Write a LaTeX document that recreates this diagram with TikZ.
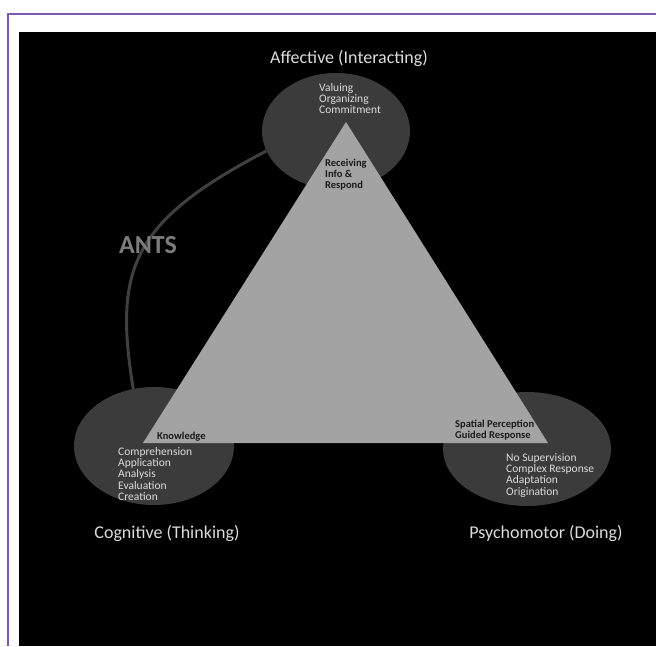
\documentclass[tikz,border=0pt]{standalone}
\usepackage{fontspec}
\setmainfont{Carlito}
\usetikzlibrary{shapes.geometric}

\definecolor{framepurple}{HTML}{7E5AB0}
\definecolor{domaingrey}{HTML}{3B3B3B}
\definecolor{trianglegrey}{HTML}{A3A3A3}
\definecolor{arcgrey}{HTML}{404040}
\definecolor{labelwhite}{HTML}{DCDCDC}
\definecolor{antsgrey}{HTML}{7C7C7C}
\definecolor{darkink}{HTML}{1A1A1A}

\pgfdeclarelayer{background}
\pgfsetlayers{background,main}

\begin{document}
\begin{tikzpicture}[x=1pt, y=-1pt]

    % Define styles
    \tikzset{
        frameline/.style={draw=framepurple, line width=1.5pt},
        domainbubble/.style={ellipse, fill=domaingrey, inner sep=0pt},
        antsarc/.style={draw=arcgrey, line width=3pt},
        domaintitle/.style={text=labelwhite, anchor=base, font=\fontsize{18}{21}\selectfont},
        lighttext/.style={text=labelwhite, align=left, anchor=north west, inner sep=0pt, font=\fontsize{11.5}{11.4}\selectfont},
        darktext/.style={text=darkink, align=left, anchor=north west, inner sep=0pt, font=\bfseries\fontsize{10.5}{11}\selectfont}
    }

    \useasboundingbox (0,0) rectangle (656,646);

    % 1. Page frame and background
    \begin{pgfonlayer}{background}
        \fill[black] (19,32) rectangle (656,646);
        \draw[frameline] (8,646) -- (8,14) -- (656,14);
    \end{pgfonlayer}

    % 2. Domains
    \node[domainbubble, minimum width=148pt, minimum height=116pt] (aff) at (336,131) {};
    \node[domainbubble, minimum width=160pt, minimum height=118pt] (cog) at (154,446) {};
    \node[domainbubble, minimum width=168pt, minimum height=114pt] (psy) at (527,449) {};

    % ANTS link, kept behind the domains
    \begin{pgfonlayer}{background}
        \draw[antsarc] (aff.196) .. controls (130,222) and (114,270) .. (cog.110);
    \end{pgfonlayer}
    \node[text=antsgrey, font=\bfseries\fontsize{26}{28}\selectfont, anchor=base] (ants) at (148,253) {ANTS};

    % 3. Triangle
    \coordinate (apex) at (346,122);
    \coordinate (bl) at (143,443);
    \coordinate (br) at (548,443);
    \fill[trianglegrey] (apex) -- (bl) -- (br) -- cycle;

    % 4. Titles
    \node[domaintitle] (afftitle) at (349,63) {Affective (Interacting)};
    \node[domaintitle] (cogtitle) at (167,538) {Cognitive (Thinking)};
    \node[domaintitle] (psytitle) at (546,538) {Psychomotor (Doing)};

    % 5. Levels
    \node[lighttext] (afflevels) at (319,83) {Valuing\\Organizing\\Commitment};
    \node[darktext] (affbase) at (325,159) {Receiving\\Info \&\\Respond};

    \node[darktext, anchor=base west] (cogbase) at (157,439) {Knowledge};
    \node[lighttext] (coglevels) at (118,447) {Comprehension\\Application\\Analysis\\Evaluation\\Creation};

    \node[darktext] (psybase) at (455,420) {Spatial Perception\\Guided Response};
    \node[lighttext] (psylevels) at (506,453) {No Supervision\\Complex Response\\Adaptation\\Origination};

\end{tikzpicture}
\end{document}
